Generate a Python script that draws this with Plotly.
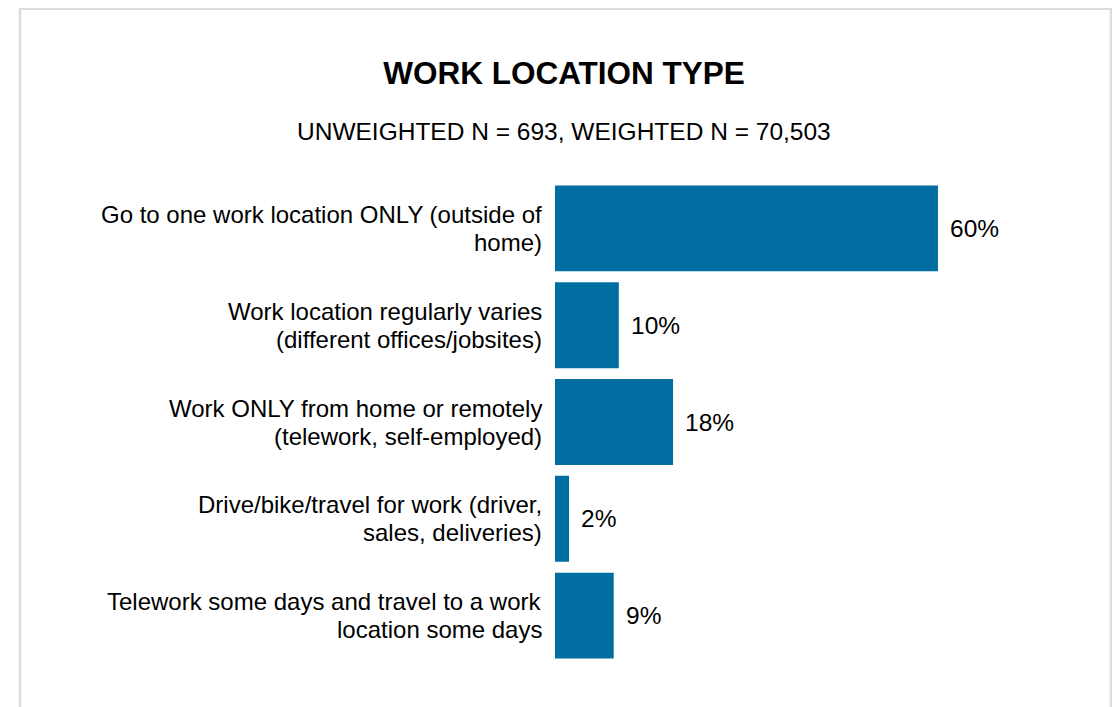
import plotly.graph_objects as go

# data
categories = ["loc_one", "loc_varies", "home_only", "travel", "hybrid"]
label_lines = [
    ["Go to one work location ONLY (outside of", "home)"],
    ["Work location regularly varies", "(different offices/jobsites)"],
    ["Work ONLY from home or remotely", "(telework, self-employed)"],
    ["Drive/bike/travel for work (driver,", "sales, deliveries)"],
    ["Telework some days and travel to a work", "location some days"],
]
values = [60.0, 10.0, 18.5, 2.2, 9.2]

title = "WORK LOCATION TYPE"
subtitle = "UNWEIGHTED N = 693, WEIGHTED N = 70,503"

# page body adds an 8px margin, so figure px = screen px - OFF
OFF = 8
W, H = 1120 - OFF, 707 - OFF
ML = 555 - OFF
MT = 179.5 - OFF
MB = H - (664.5 - OFF)
MR = W - (1002 - OFF)
PW, PH = W - ML - MR, H - MT - MB
FONT = "Liberation Sans, Arial, sans-serif"
BAR = "#006EA1"
LINE_GAP = 28


def px_x(p):
    # screen pixel -> paper x
    return (p - OFF - ML) / PW


def px_y(p):
    # screen pixel -> paper y
    return (H - MB - (p - OFF)) / PH


fig = go.Figure(go.Bar(
    x=values, y=categories, orientation="h",
    marker=dict(color=BAR, line=dict(width=0)),
    hoverinfo="skip",
))

annotations = []
for cat, lines in zip(categories, label_lines):
    n = len(lines)
    for i, line in enumerate(lines):
        annotations.append(dict(
            text=line, xref="paper", x=0, y=cat, yref="y",
            xanchor="right", yanchor="middle", xshift=-12,
            yshift=(n - 1) / 2 * LINE_GAP - i * LINE_GAP, showarrow=False,
            borderpad=0,
            font=dict(size=24, color="#000", family=FONT),
        ))
for cat, v in zip(categories, values):
    annotations.append(dict(
        text=f"{v:.0f}%", x=v, y=cat, xanchor="left", yanchor="middle",
        xshift=10, showarrow=False,
        font=dict(size=24.5, color="#000", family=FONT),
    ))
annotations.append(dict(
    text=subtitle, xref="paper", yref="paper", x=px_x(564), y=px_y(131),
    xanchor="center", yanchor="middle", showarrow=False,
    font=dict(size=24.5, color="#000", family=FONT),
))

fig.update_layout(
    width=W, height=H,
    margin=dict(l=ML, r=MR, t=MT, b=MB, pad=0),
    paper_bgcolor="white", plot_bgcolor="white",
    showlegend=False, bargap=0.113,
    title=dict(text=f"<b>{title}</b>", x=(564 - OFF) / W, xanchor="center",
               y=1 - (73 - OFF) / H, yanchor="middle",
               font=dict(size=31.5, color="#000", family=FONT)),
    xaxis=dict(range=[0, PW / 6.383], visible=False, fixedrange=True),
    yaxis=dict(autorange="reversed", showticklabels=False, showgrid=False,
               zeroline=False, showline=False, fixedrange=True),
    annotations=annotations,
    shapes=[dict(type="rect", xref="paper", yref="paper",
                 x0=px_x(20), x1=px_x(1111), y0=px_y(730), y1=px_y(8),
                 line=dict(color="#DCDCDC", width=2.5), layer="below")],
)

fig.write_html("out.html", config={"displayModeBar": False})
